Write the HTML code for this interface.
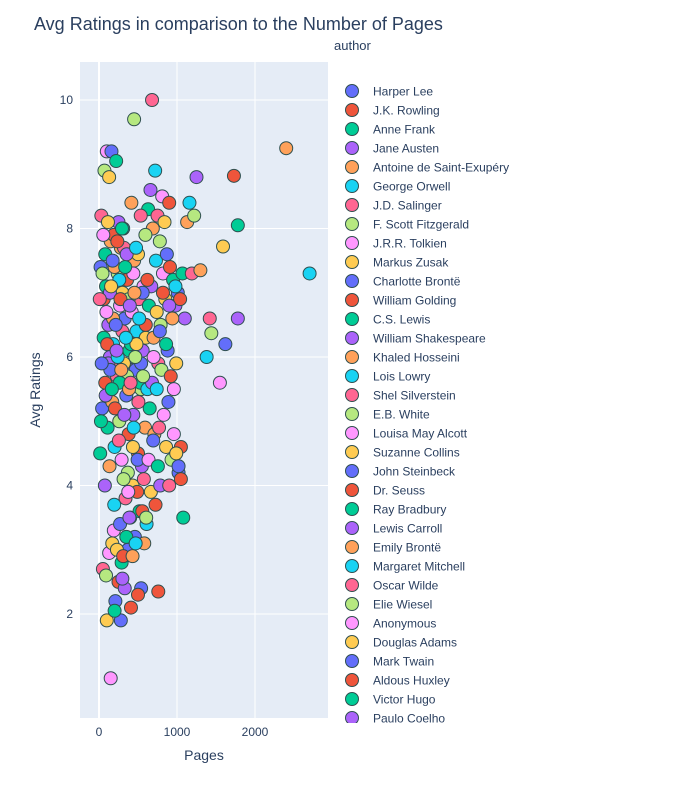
<!DOCTYPE html>
<html><head><meta charset="utf-8">
<style>
body{margin:0;background:#fff;font-family:"Liberation Sans",Arial,sans-serif;}
svg text{font-family:"Liberation Sans",Arial,sans-serif;fill:#2a3f5f;}
</style></head>
<body>
<svg id="chart" width="676" height="800" xmlns="http://www.w3.org/2000/svg">
<defs><clipPath id="lgclip"><rect x="330" y="60" width="346" height="663"/></clipPath></defs>
<text x="34" y="30" font-size="18">Avg Ratings in comparison to the Number of Pages</text>
<rect x="80" y="62" width="248" height="656" fill="#e5ecf6"/>
<g id="grid"></g>
<g id="ticks"></g>
<g id="points"></g>
<text x="204" y="760" font-size="14" text-anchor="middle">Pages</text>
<text transform="translate(40,390) rotate(-90)" font-size="14" text-anchor="middle">Avg Ratings</text>
<text x="334" y="50" font-size="13">author</text>
<g id="legend" clip-path="url(#lgclip)"></g>
</svg>
<script>
const authors=["Harper Lee","J.K. Rowling","Anne Frank","Jane Austen","Antoine de Saint-Exupéry","George Orwell","J.D. Salinger","F. Scott Fitzgerald","J.R.R. Tolkien","Markus Zusak","Charlotte Brontë","William Golding","C.S. Lewis","William Shakespeare","Khaled Hosseini","Lois Lowry","Shel Silverstein","E.B. White","Louisa May Alcott","Suzanne Collins","John Steinbeck","Dr. Seuss","Ray Bradbury","Lewis Carroll","Emily Brontë","Margaret Mitchell","Oscar Wilde","Elie Wiesel","Anonymous","Douglas Adams","Mark Twain","Aldous Huxley","Victor Hugo","Paulo Coelho"];
const colors=["#636efa","#EF553B","#00cc96","#ab63fa","#FFA15A","#19d3f3","#FF6692","#B6E880","#FF97FF","#FECB52"];
const xTicks=[0,1000,2000];
const yTicks=[2,4,6,8,10];
const pages=[20,60,90,120,150,180,210,240,270,300,
330,360,390,420,450,480,510,540,570,600,
40,80,110,140,170,200,230,260,290,320,
350,380,410,440,470,500,530,560,590,620,
30,70,100,130,160,190,220,250,280,310,
340,370,400,430,460,490,520,550,580,610,
50,90,130,170,210,250,290,330,370,410,
640,670,700,730,760,790,820,850,880,910,
650,680,710,740,770,800,830,860,890,920,
630,660,690,720,750,780,810,840,870,900,
950,980,1010,1040,1070,1100,1130,1160,1190,1220,
960,990,1020,1050,1080,
1250,1300,1380,1420,1440,1550,1590,1620,1730,1780,1780,2400,2700,
680,450,150,100,280,760,200,300,540,500,
60,120,180,240,300,360,420,480,540,600,
80,140,200,260,320,380,440,500,560,620,
15,75,135,195,255,315,375,435,495,555,
25,85,145,205,265,325,385,445,505,565,
700,740,780,820,860,900,940,980,
10,45,95,155,215,275,335,395,455,515,
575,605,635,665,695,725,755,785,
35,105,165,225,285,345,405,465,
55,115,175,235,295,355,415,475,535,595,
190,230,270,310,350,390,430,470,
900,930,960,990,1020,1050];
const ratings=[7.4,6.9,7.1,6.5,7.8,6.2,5.9,7.3,6.8,7.0,
6.6,7.2,6.1,5.8,7.5,6.4,6.9,5.5,7.1,6.3,
5.2,5.6,4.9,6.0,5.3,4.6,5.7,5.0,4.4,5.9,
5.4,4.8,6.2,5.1,5.8,4.5,5.6,6.1,4.9,5.5,
8.2,8.9,9.2,8.8,9.2,7.9,9.05,8.1,7.7,8.0,
3.8,4.2,3.5,4.0,3.2,3.9,3.6,4.3,3.1,3.4,
2.7,2.6,2.95,3.1,2.2,2.5,2.8,2.4,3.0,2.1,
6.8,7.1,6.3,7.5,5.9,6.5,7.3,6.9,6.1,7.4,
5.2,5.6,4.8,5.5,4.9,5.8,5.1,4.6,5.3,5.7,
8.3,8.6,8.0,8.9,8.2,7.8,8.5,8.1,7.6,8.4,
7.2,6.8,7.0,6.9,7.3,6.6,8.1,8.4,7.3,8.2,
5.5,5.9,4.2,4.6,3.5,
8.8,7.35,6.0,6.6,6.37,5.6,7.72,6.2,8.82,8.05,6.6,9.25,7.3,
10,9.7,1.0,1.9,1.9,2.35,2.05,2.55,2.4,2.3,
6.3,5.9,6.6,6.0,6.4,5.7,6.7,6.2,5.9,6.5,
7.6,7.0,7.4,7.2,7.7,6.9,7.3,7.6,7.0,7.2,
4.5,4.0,4.3,3.7,4.7,4.1,3.9,4.6,4.4,3.6,
5.0,5.4,5.8,5.2,5.6,5.1,5.5,4.9,5.3,5.7,
6.0,6.7,6.4,7.0,6.2,6.8,6.6,7.1,
6.9,7.3,6.7,7.1,6.5,6.9,7.4,6.8,7.0,6.6,
4.1,3.5,4.4,3.9,4.7,3.7,4.3,4.0,
5.9,6.2,5.5,6.1,5.8,6.3,5.6,6.0,
7.9,8.1,7.5,7.8,8.0,7.6,8.4,7.7,8.2,7.9,
3.3,3.0,3.4,2.9,3.2,3.5,2.9,3.1,
4.0,4.4,4.8,4.5,4.3,4.1];

const NS="http://www.w3.org/2000/svg";
const X0=80,X1=328,Y0=62,Y1=718;
function xs(v){return 99+v*0.078;}
function ys(v){return 100+(10-v)*64.25;}
function mk(t,a,p){const e=document.createElementNS(NS,t);for(const k in a)e.setAttribute(k,a[k]);p.appendChild(e);return e;}
const grid=document.getElementById('grid'),ticks=document.getElementById('ticks');
xTicks.forEach(t=>{
 const l=mk('line',{x1:xs(t),x2:xs(t),y1:Y0,y2:Y1,stroke:'#fff','stroke-width':t===0?2:1},grid);
 
 
 const tx=mk('text',{x:xs(t),y:736,'font-size':12,'text-anchor':'middle'},ticks);tx.textContent=t;
 
 
});
yTicks.forEach(t=>{
 const l=mk('line',{x1:X0,x2:X1,y1:ys(t),y2:ys(t),stroke:'#fff','stroke-width':1},grid);
 
 
 const tx=mk('text',{x:73,y:ys(t)+4,'font-size':12,'text-anchor':'end'},ticks);tx.textContent=t;
 
 
});
const pts=document.getElementById('points');
pages.forEach((p,i)=>{
 const a=i%authors.length;
 const c=mk('circle',{cx:xs(p),cy:ys(ratings[i]),r:6.5,fill:colors[a%10],stroke:'#2f4f4f','stroke-width':1},pts);
 
 
});
const lg=document.getElementById('legend');
authors.forEach((a,i)=>{
 const y=91+i*19;
 if(y>730)return;
 const g=mk('g',{},lg);
 
 
 mk('circle',{cx:352,cy:y,r:6.5,fill:colors[i%10],stroke:'#2f4f4f','stroke-width':1},g);
 const t=mk('text',{x:373,y:y+4.5,'font-size':12},g);t.textContent=a;
});
</script>
</body></html>
